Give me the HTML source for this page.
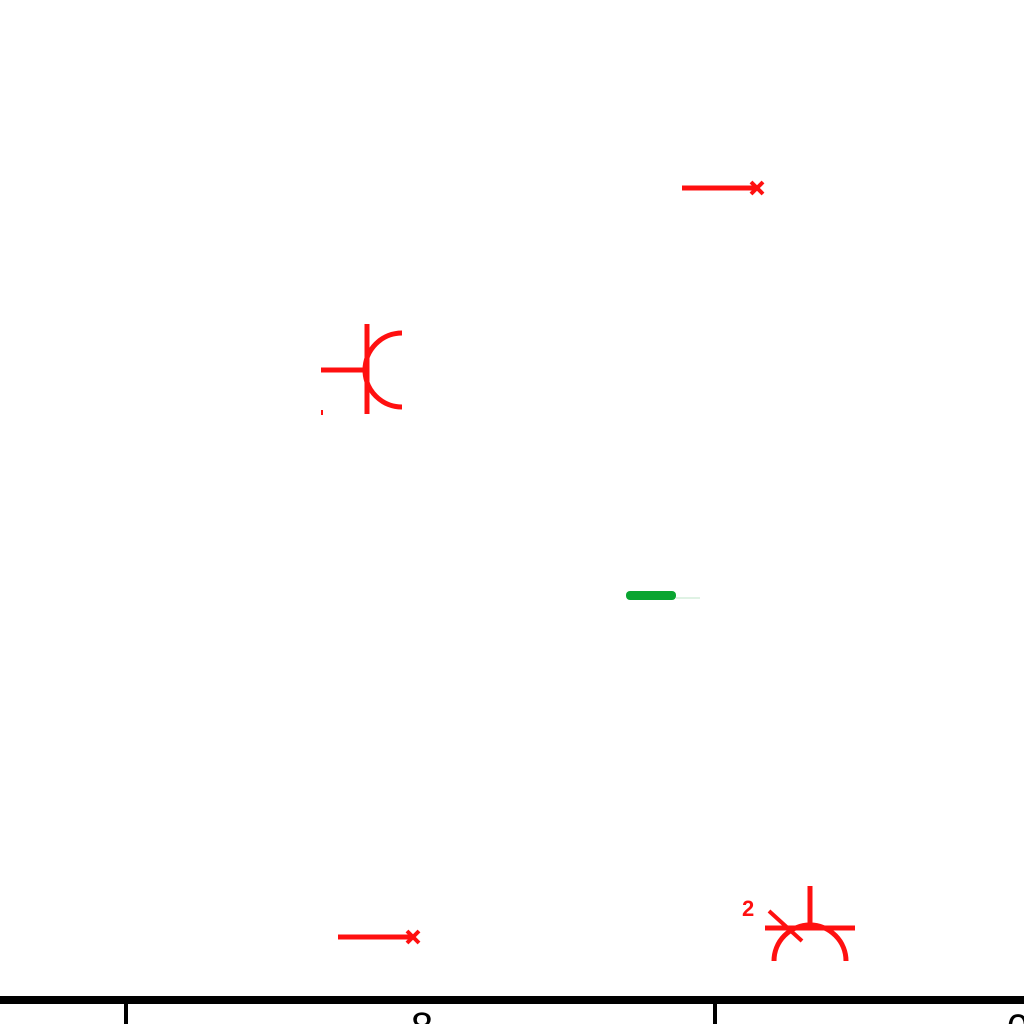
<!DOCTYPE html>
<html><head><meta charset="utf-8"><style>
html,body{margin:0;padding:0;background:#fff;width:1024px;height:1024px;overflow:hidden}
svg{display:block}
</style></head><body>
<svg width="1024" height="1024" viewBox="0 0 1024 1024">
<g stroke="#ff1010" fill="none" stroke-width="5">
  <g>
    <line x1="682" y1="188" x2="757" y2="188"/>
    <line x1="751" y1="182" x2="763" y2="194" stroke-width="4"/>
    <line x1="751" y1="194" x2="763" y2="182" stroke-width="4"/>
  </g>
  <g>
    <line x1="338" y1="937" x2="413" y2="937"/>
    <line x1="407" y1="931" x2="419" y2="943" stroke-width="4"/>
    <line x1="407" y1="943" x2="419" y2="931" stroke-width="4"/>
  </g>
  <g>
    <line x1="321" y1="370" x2="367" y2="370"/>
    <line x1="367" y1="324" x2="367" y2="414"/>
    <path d="M402 333 A37 37 0 0 0 402 407"/>
    <line x1="322" y1="410" x2="322" y2="415" stroke-width="2"/>
  </g>
  <g>
    <line x1="810" y1="886" x2="810" y2="928"/>
    <line x1="765" y1="928" x2="855" y2="928"/>
    <path d="M774 961 A36 36 0 0 1 846 961"/>
    <line x1="769" y1="911" x2="802" y2="941" stroke-width="4"/>
  </g>
</g>
<text x="742" y="916" font-family="Liberation Sans, sans-serif" font-weight="bold" font-size="22" fill="#ff1010">2</text>
<g>
  <rect x="626" y="591" width="50" height="9" rx="4" fill="#0aa531"/>
  <line x1="676" y1="598" x2="700" y2="598" stroke="#bfe6c8" stroke-width="1"/>
</g>
<g>
  <rect x="0" y="996" width="1024" height="8" fill="#000"/>
  <line x1="126" y1="1004" x2="126" y2="1024" stroke="#000" stroke-width="4"/>
  <line x1="715" y1="1004" x2="715" y2="1024" stroke="#000" stroke-width="4"/>
  <text x="422" y="1040" text-anchor="middle" font-family="Liberation Sans, sans-serif" font-size="40" fill="#000">8</text>
  <text x="1018" y="1042" text-anchor="middle" font-family="Liberation Sans, sans-serif" font-size="40" fill="#000">0</text>
</g>
</svg>
</body></html>
